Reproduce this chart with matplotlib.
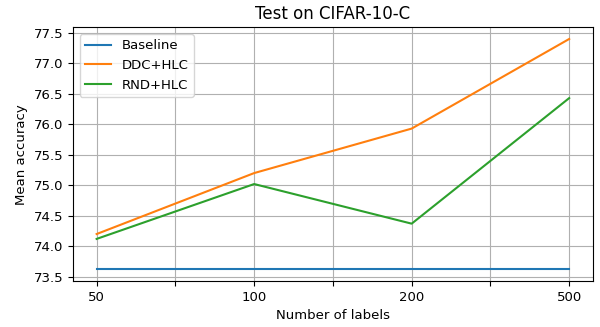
import numpy as np
import matplotlib
matplotlib.use("Agg")
import matplotlib.pyplot as plt
from matplotlib.ticker import MultipleLocator, FormatStrFormatter

labels = ["50", "100", "200", "500"]
baseline = [73.62, 73.62, 73.62, 73.62]
ddc_hlc = [74.20, 75.20, 75.93, 77.40]
rnd_hlc = [74.12, 75.02, 74.37, 76.43]

plt.rcParams["font.size"] = 9.5

x = np.arange(len(labels)) * 2

fig, ax = plt.subplots(figsize=(6, 3.27), dpi=100)
ax.plot(x, baseline, label="Baseline")
ax.plot(x, ddc_hlc, label="DDC+HLC")
ax.plot(x, rnd_hlc, label="RND+HLC")

ticks = np.arange(x[-1] + 1)
tick_labels = [""] * len(ticks)
for pos, lab in zip(x, labels):
    tick_labels[pos] = lab
ax.set_xticks(ticks)
ax.set_xticklabels(tick_labels)

ax.yaxis.set_major_locator(MultipleLocator(0.5))
ax.yaxis.set_major_formatter(FormatStrFormatter("%.1f"))

ax.set_title("Test on CIFAR-10-C", fontsize=12)
ax.set_xlabel("Number of labels")
ax.set_ylabel("Mean accuracy")
ax.grid(True)
ax.legend(loc="upper left")

fig.subplots_adjust(left=0.1217, right=0.988, top=0.916, bottom=0.141)
fig.savefig("out.png")
